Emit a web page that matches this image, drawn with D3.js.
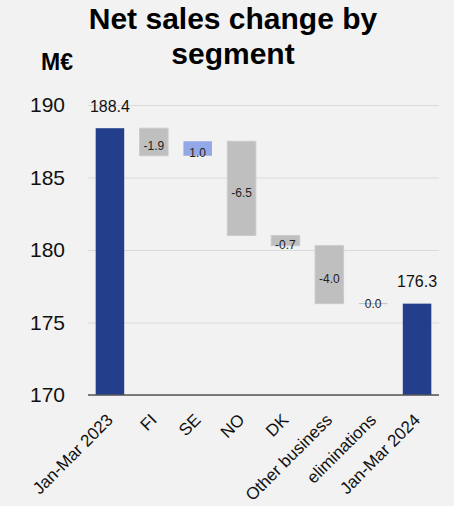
<!DOCTYPE html>
<html>
<head>
<meta charset="utf-8">
<script src="https://cdn.jsdelivr.net/npm/d3@7"></script>
<style>
  html, body { margin: 0; padding: 0; background: #f2f2f2; }
  svg { display: block; font-family: "Liberation Sans", Arial, sans-serif; }
</style>
</head>
<body>
<svg id="chart" width="454" height="506"></svg>
<script>
// Waterfall: opening total, per-segment changes, closing total (M€)
const categories = ["Jan-Mar 2023", "FI", "SE", "NO", "DK", "Other business", "eliminations", "Jan-Mar 2024"];
const openingValue = 188.4;
const changes = [-1.9, 1.0, -6.5, -0.7, -4.0, 0.0];
const closingValue = 176.3;
const yTicks = [170, 175, 180, 185, 190];

const W = 454, H = 506;
const margin = { top: 105, right: 15, bottom: 111, left: 88 };
const svg = d3.select("#chart");

// Build bar records: totals sit on the axis floor, changes float on the running sum
const bars = [];
bars.push({ cat: categories[0], lo: 170, hi: openingValue, kind: "total", value: openingValue });
let running = openingValue;
changes.forEach((d, i) => {
  const next = running + d;
  bars.push({ cat: categories[i + 1], lo: Math.min(running, next), hi: Math.max(running, next),
              kind: d > 0 ? "up" : "down", value: d });
  running = next;
});
bars.push({ cat: categories[categories.length - 1], lo: 170, hi: closingValue, kind: "total", value: closingValue });

const x = d3.scaleBand().domain(categories)
  .range([margin.left, W - margin.right]).paddingInner(0.35).paddingOuter(0.175);
const y = d3.scaleLinear().domain([170, 190]).range([H - margin.bottom, margin.top]);

const fills = { total: "#233e8b", up: "#93a8e6", down: "#bfbfbf" };

// Title
const title = svg.append("text").attr("x", 233).attr("text-anchor", "middle")
  .attr("font-weight", "bold").attr("font-size", 30).attr("fill", "#000");
title.append("tspan").attr("x", 233).attr("y", 29).text("Net sales change by");
title.append("tspan").attr("x", 233).attr("y", 64).text("segment");

svg.append("text").attr("x", 57).attr("y", 70).attr("text-anchor", "middle")
  .attr("font-weight", "bold").attr("font-size", 23).attr("fill", "#000").text("M€");

// Gridlines and y tick labels
const yAxis = svg.append("g").attr("transform", `translate(${margin.left},0)`)
  .call(d3.axisLeft(y).tickValues(yTicks).tickSize(-(W - margin.left - margin.right)).tickPadding(23).tickFormat(d3.format("d")));
yAxis.select(".domain").remove();
yAxis.selectAll(".tick line").attr("stroke", "#d9d9d9").attr("stroke-width", 1.2);
yAxis.selectAll(".tick text").attr("font-size", 21).attr("fill", "#111")
  .attr("font-family", "'Liberation Sans', Arial, sans-serif");

// Bars
svg.append("g").selectAll("rect").data(bars).join("rect")
  .attr("x", d => x(d.cat))
  .attr("width", x.bandwidth())
  .attr("y", d => y(d.hi) - (d.hi === d.lo ? 0.5 : 0))
  .attr("height", d => Math.max(1, y(d.lo) - y(d.hi)))
  .attr("fill", d => fills[d.kind])
  .attr("stroke", d => d.kind === "down" ? "#cbcbcb" : "none")
  .attr("stroke-width", d => d.hi === d.lo ? 0 : 1);

// Baseline
svg.append("line").attr("x1", margin.left).attr("x2", W - margin.right)
  .attr("y1", y(170)).attr("y2", y(170)).attr("stroke", "#555").attr("stroke-width", 1.5);

// Value labels (plain hyphen for negatives)
const fmt = v => d3.format(".1f")(v).replace("\u2212", "-");
svg.append("g").selectAll("text").data(bars).join("text")
  .attr("x", d => x(d.cat) + x.bandwidth() / 2)
  .attr("y", d => d.kind === "total" ? y(d.hi) - 22 : (y(d.hi) + y(d.lo)) / 2 + (d.hi === d.lo ? 0 : 4))
  .attr("dy", "0.35em")
  .attr("text-anchor", "middle")
  .attr("font-size", d => d.kind === "total" ? 16 : 12)
  .attr("fill", d => d.kind === "total" ? "#111" : "#222")
  .text(d => fmt(d.value));

// Category labels, rotated
svg.append("g").selectAll("text").data(categories).join("text")
  .attr("transform", d => `translate(${x(d) + x.bandwidth() / 2 + 4},${y(170) + 26}) rotate(-45)`)
  .attr("text-anchor", "end")
  .attr("font-size", 17)
  .attr("fill", "#111")
  .text(d => d);
</script>
</body>
</html>
